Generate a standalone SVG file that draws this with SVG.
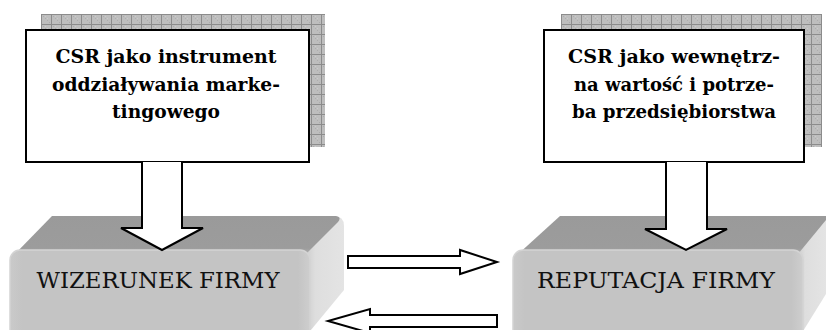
<svg xmlns="http://www.w3.org/2000/svg" width="826" height="330" viewBox="0 0 826 330">
<defs>
<pattern id="grid" x="1" y="4" width="10" height="10" patternUnits="userSpaceOnUse">
<rect x="0" y="0" width="10" height="10" fill="#bebebe"/>
<rect x="2" y="2" width="1" height="1" fill="#adadad"/><rect x="4" y="4" width="1" height="1" fill="#adadad"/><rect x="6" y="6" width="1" height="1" fill="#adadad"/><rect x="8" y="8" width="1" height="1" fill="#adadad"/><rect x="4" y="2" width="1" height="1" fill="#cccccc"/><rect x="6" y="4" width="1" height="1" fill="#cccccc"/>
<rect x="0" y="0" width="1" height="10" fill="#8c8c8c"/>
<rect x="0" y="0" width="10" height="1" fill="#8c8c8c"/>
</pattern>
<linearGradient id="topg" x1="0" y1="0" x2="0" y2="1">
<stop offset="0" stop-color="#9a9a9a"/><stop offset="0.8" stop-color="#9c9c9c"/><stop offset="1" stop-color="#b8b8b8"/>
</linearGradient>
<linearGradient id="sideg" x1="0" y1="0" x2="1" y2="0">
<stop offset="0" stop-color="#c4c4c4"/><stop offset="0.35" stop-color="#dedede"/><stop offset="1" stop-color="#e4e4e4"/>
</linearGradient>
<linearGradient id="frontg" x1="0" y1="0" x2="1" y2="0">
<stop offset="0" stop-color="#cacaca"/><stop offset="0.04" stop-color="#c4c4c4"/><stop offset="0.96" stop-color="#c4c4c4"/><stop offset="1" stop-color="#cecece"/>
</linearGradient>
<style>
.shadow{fill:url(#grid)}
.box{fill:#fff;stroke:#000;stroke-width:2}
.title{font-family:'DejaVu Serif',serif;font-weight:bold;font-size:18px;fill:#000;text-anchor:middle}
.label{font-family:'DejaVu Serif',serif;font-size:22px;fill:#111;text-anchor:middle}
.top{fill:url(#topg)}
.side{fill:url(#sideg)}
.front{fill:url(#frontg);stroke:#d4d4d4;stroke-width:1.5}
.arrow{fill:#fff;stroke:#000;stroke-width:2;stroke-linejoin:miter}
</style>
</defs>

<g id="csr-marketing">
<rect class="shadow" x="41" y="14" width="284" height="133"/>
<rect class="box" x="26" y="30" width="283" height="132"/>
<text class="title" x="166" y="63" textLength="221" lengthAdjust="spacingAndGlyphs">CSR jako instrument</text>
<text class="title" x="166" y="91" textLength="228" lengthAdjust="spacingAndGlyphs">oddziaływania marke-</text>
<text class="title" x="166" y="118" textLength="108" lengthAdjust="spacingAndGlyphs">tingowego</text>
</g>

<g id="csr-wartosc">
<rect class="shadow" x="561" y="14" width="261" height="133"/>
<rect class="box" x="544" y="30" width="260" height="132"/>
<text class="title" x="674" y="63" textLength="212" lengthAdjust="spacingAndGlyphs">CSR jako wewnętrz-</text>
<text class="title" x="674" y="91" textLength="200" lengthAdjust="spacingAndGlyphs">na wartość i potrze-</text>
<text class="title" x="674" y="118" textLength="204" lengthAdjust="spacingAndGlyphs">ba przedsiębiorstwa</text>
</g>

<g id="wizerunek">
<path class="side" d="M300,252 L334,216 Q344,216 344,226 L344,290 L306,336 L300,336 Z"/>
<path class="top" d="M13,256 L52,216 L336,216 Q342,217 338,222 L306,254 Z"/>
<rect class="front" x="10" y="250" width="300" height="100" rx="10"/>
<text class="label" x="158" y="288" textLength="243" lengthAdjust="spacingAndGlyphs">WIZERUNEK FIRMY</text>
</g>

<g id="reputacja">
<path class="side" d="M794,252 L826,218 L826,294 L800,336 L794,336 Z"/>
<path class="top" d="M516,256 L560,216 L826,216 L826,220 L798,254 Z"/>
<rect class="front" x="513" y="250" width="290" height="100" rx="10"/>
<text class="label" x="656" y="288" textLength="238" lengthAdjust="spacingAndGlyphs">REPUTACJA FIRMY</text>
</g>

<g id="connectors">
<path class="arrow" d="M142,162 L142,228 L121,228 L162,250 L203,228 L182,228 L182,162"/>
<path class="arrow" d="M666,162 L666,229 L645,229 L686,250 L727,229 L707,229 L707,162"/>
<path class="arrow" d="M348,256 L460,256 L460,250 L497,262 L460,274 L460,268 L348,268 Z"/>
<path class="arrow" d="M497,315 L370,315 L370,309 L328,321 L370,333 L370,327 L497,327 Z"/>
</g>
</svg>
